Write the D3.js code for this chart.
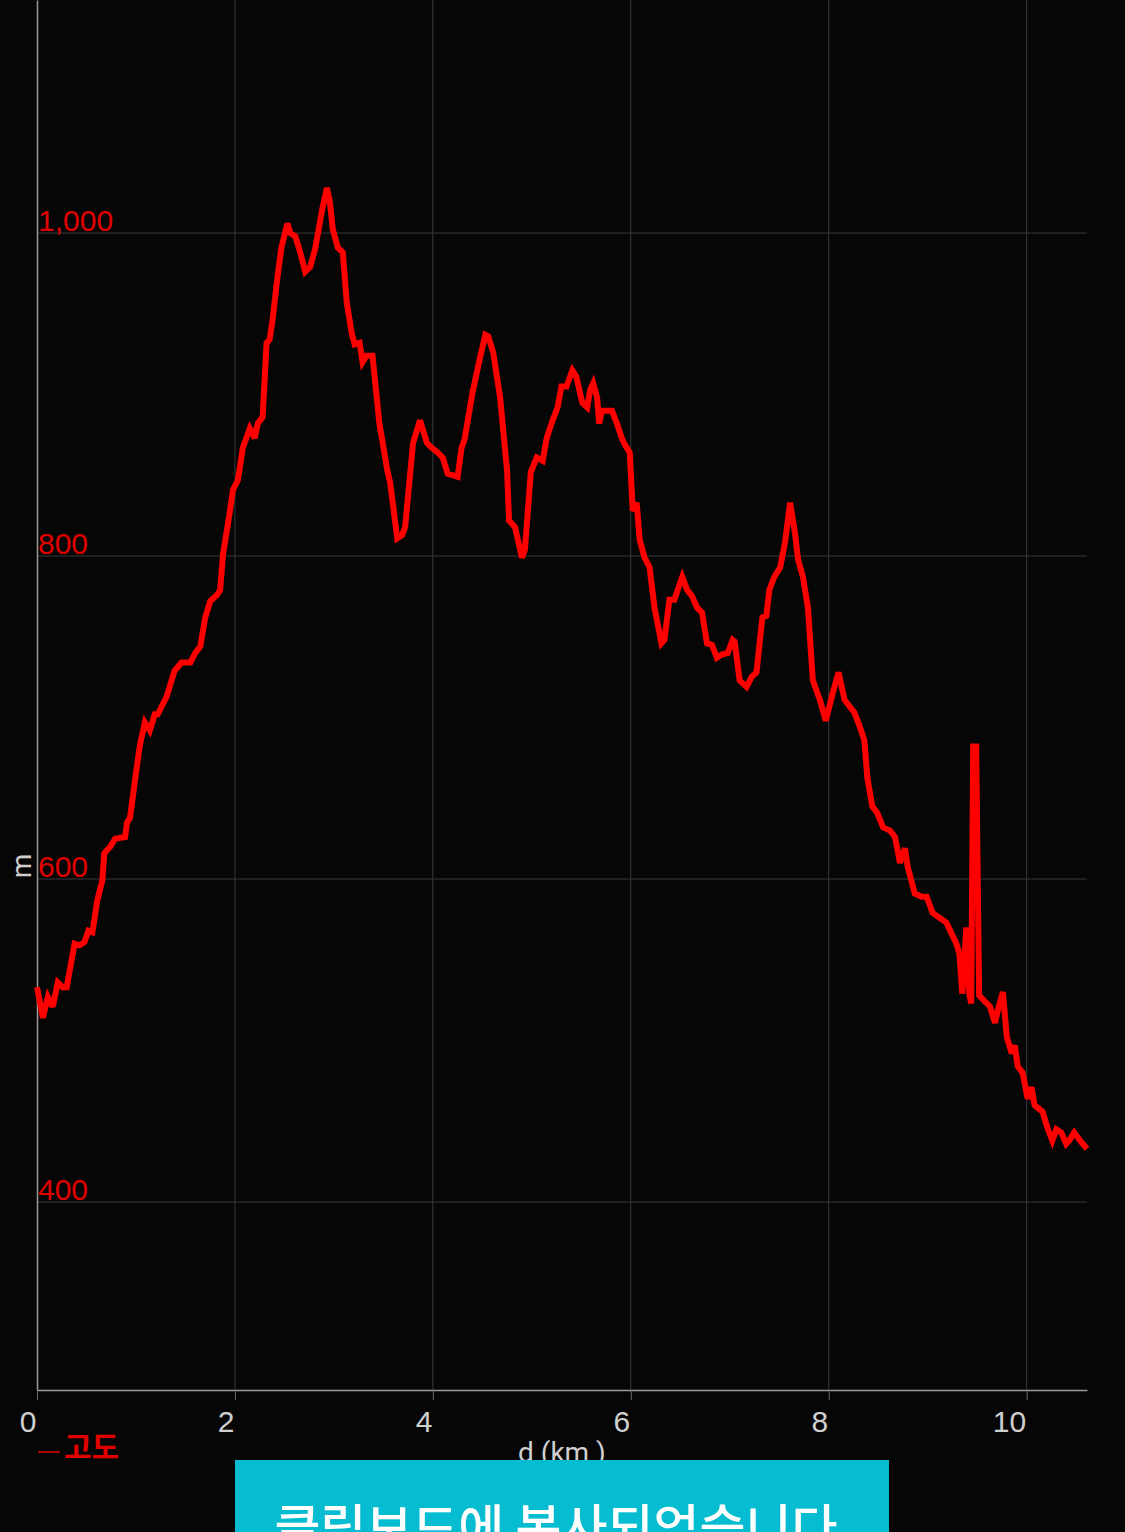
<!DOCTYPE html>
<html><head><meta charset="utf-8">
<script src="https://cdn.jsdelivr.net/npm/d3@7"></script>
<style>
html,body{margin:0;padding:0;background:#060606;}
svg{display:block;}
</style></head>
<body>
<script>
// distance in km
const distKm = [0.00,0.06,0.11,0.16,0.21,0.26,0.30,0.38,0.43,0.48,0.52,0.56,0.61,0.66,0.68,0.74,0.79,0.89,0.91,0.94,0.99,1.04,1.09,1.12,1.14,1.19,1.22,1.31,1.39,1.46,1.55,1.60,1.65,1.70,1.75,1.82,1.85,1.88,1.95,1.98,2.03,2.08,2.15,2.20,2.23,2.28,2.32,2.35,2.38,2.43,2.47,2.53,2.56,2.61,2.66,2.71,2.76,2.81,2.88,2.93,2.96,2.99,3.04,3.09,3.13,3.18,3.21,3.26,3.29,3.33,3.39,3.46,3.54,3.57,3.64,3.69,3.72,3.80,3.87,3.94,3.99,4.05,4.10,4.15,4.25,4.29,4.32,4.40,4.47,4.53,4.56,4.61,4.68,4.75,4.77,4.83,4.90,4.93,4.99,5.05,5.11,5.15,5.21,5.26,5.30,5.35,5.41,5.45,5.51,5.56,5.59,5.62,5.66,5.68,5.71,5.76,5.81,5.86,5.91,5.94,5.99,6.02,6.06,6.09,6.14,6.19,6.24,6.31,6.34,6.39,6.44,6.52,6.57,6.62,6.67,6.72,6.77,6.82,6.87,6.92,6.98,7.03,7.05,7.10,7.17,7.22,7.27,7.33,7.37,7.40,7.45,7.51,7.56,7.61,7.66,7.69,7.74,7.79,7.84,7.91,7.97,8.04,8.10,8.16,8.21,8.26,8.31,8.36,8.39,8.44,8.49,8.55,8.62,8.67,8.72,8.77,8.80,8.87,8.94,8.99,9.05,9.12,9.19,9.29,9.32,9.35,9.39,9.42,9.44,9.46,9.49,9.52,9.58,9.63,9.68,9.71,9.76,9.80,9.85,9.88,9.91,9.96,10.01,10.05,10.08,10.16,10.21,10.26,10.30,10.35,10.40,10.43,10.48,10.54,10.61];
// elevation in m (고도)
const elevM = [533,514,527,521,536,533,533,560,559,561,568,567,587,599,616,620,625,626,635,638,661,683,697,694,692,702,702,713,729,734,734,740,744,762,772,776,779,801,828,841,847,867,879,873,882,886,932,934,946,973,991,1006,1000,998,988,976,979,990,1014,1028,1019,1002,991,988,957,938,931,932,920,924,924,882,853,845,811,813,818,870,884,870,867,864,861,851,849,867,872,901,921,937,936,926,898,853,822,818,799,804,852,861,859,873,884,892,905,905,915,911,895,892,903,907,898,882,890,890,890,882,873,869,864,828,833,810,799,793,768,746,748,773,773,787,779,775,768,765,746,745,737,739,740,748,747,723,719,725,728,762,763,779,787,793,809,833,814,798,787,768,723,711,698,715,728,711,707,703,695,686,663,645,641,632,630,626,610,619,607,591,589,589,579,576,573,560,554,529,570,529,523,682,682,528,524,521,511,519,530,502,492,497,484,480,464,471,460,456,446,438,445,443,436,438,443,438,433];

const xTicks = [0,2,4,6,8,10];
const yTicks = [400,600,800,1000];
const xDomain = [0, 10.61];
const yDomain = [283.6, 1144.3];
const seriesName = "고도";
const xTitle = "d (km )";
const yTitle = "m";
const toastText = "클립보드에 복사되었습니다";

const W = 1125, H = 1532;
const m = {left:37, right:1087, top:0, bottom:1390};

const svg = d3.select("body").append("svg").attr("width",W).attr("height",H)
  .style("font-family","Roboto, 'Noto Sans CJK KR', sans-serif");
svg.append("rect").attr("width",W).attr("height",H).attr("fill","#060606");

const x = d3.scaleLinear().domain(xDomain).range([m.left, m.right]);
const y = d3.scaleLinear().domain(yDomain).range([m.bottom, m.top]);

// grid
svg.append("g").selectAll("line").data(xTicks.slice(1)).join("line")
  .attr("x1",d=>x(d)).attr("x2",d=>x(d)).attr("y1",m.top).attr("y2",m.bottom)
  .attr("stroke","#3a3a3a").attr("stroke-width",1);
svg.append("g").selectAll("line").data(yTicks).join("line")
  .attr("x1",m.left).attr("x2",m.right).attr("y1",d=>y(d)).attr("y2",d=>y(d))
  .attr("stroke","#3a3a3a").attr("stroke-width",1);

// x axis
const xAxis = d3.axisBottom(x).tickValues(xTicks).tickSize(10).tickSizeOuter(0).tickFormat(d3.format("d"));
const gx = svg.append("g").attr("transform",`translate(0,${m.bottom})`).call(xAxis);
gx.select(".domain").attr("stroke","#9a9a9a").attr("stroke-width",1.5);
gx.selectAll(".tick line").attr("stroke","#6a6a6a");
gx.selectAll(".tick text").attr("fill","#cfcfcf").attr("font-size",30)
  .attr("text-anchor","end").attr("x",-1).attr("y",21).attr("dy","0.71em");

// y axis
const yAxis = d3.axisLeft(y).tickValues(yTicks).tickSize(0).tickSizeOuter(0).tickFormat(d3.format(","));
const gy = svg.append("g").attr("transform",`translate(${m.left},0)`).call(yAxis);
gy.select(".domain").attr("stroke","#9a9a9a").attr("stroke-width",1.5);
gy.selectAll(".tick text").attr("fill","#e00000").attr("font-size",30)
  .attr("text-anchor","start").attr("x",1).attr("dy","-0.08em");

// axis titles
svg.append("text").attr("transform",`translate(31,866) rotate(-90)`)
  .attr("text-anchor","middle").attr("fill","#cfcfcf").attr("font-size",28).text(yTitle);
svg.append("text").attr("x",562).attr("y",1462).attr("text-anchor","middle")
  .attr("fill","#cfcfcf").attr("font-size",28).text(xTitle);

// line
const pts = distKm.map((d,i)=>[d, elevM[i]]);
svg.append("path").datum(pts)
  .attr("fill","none").attr("stroke","#ff0000").attr("stroke-width",6)
  .attr("stroke-linejoin","miter").attr("stroke-miterlimit",3)
  .attr("d", d3.line().x(d=>x(d[0])).y(d=>y(d[1])));

// legend
svg.append("line").attr("x1",38).attr("x2",60).attr("y1",1452).attr("y2",1452)
  .attr("stroke","#e00000").attr("stroke-width",1.5);
svg.append("text").attr("x",64).attr("y",1458).attr("fill","#e00000")
  .attr("font-size",30).attr("font-family","'Noto Sans CJK KR', sans-serif").attr("font-weight",700).text(seriesName);

// toast
svg.append("rect").attr("x",235).attr("y",1460).attr("width",654).attr("height",80).attr("fill","#06bcd0");
svg.append("text").attr("x",556).attr("y",1546).attr("text-anchor","middle").attr("fill","#ffffff")
  .attr("font-size",50).attr("font-family","'Noto Sans CJK KR', sans-serif").attr("font-weight",500).text(toastText);
</script>
</body></html>
